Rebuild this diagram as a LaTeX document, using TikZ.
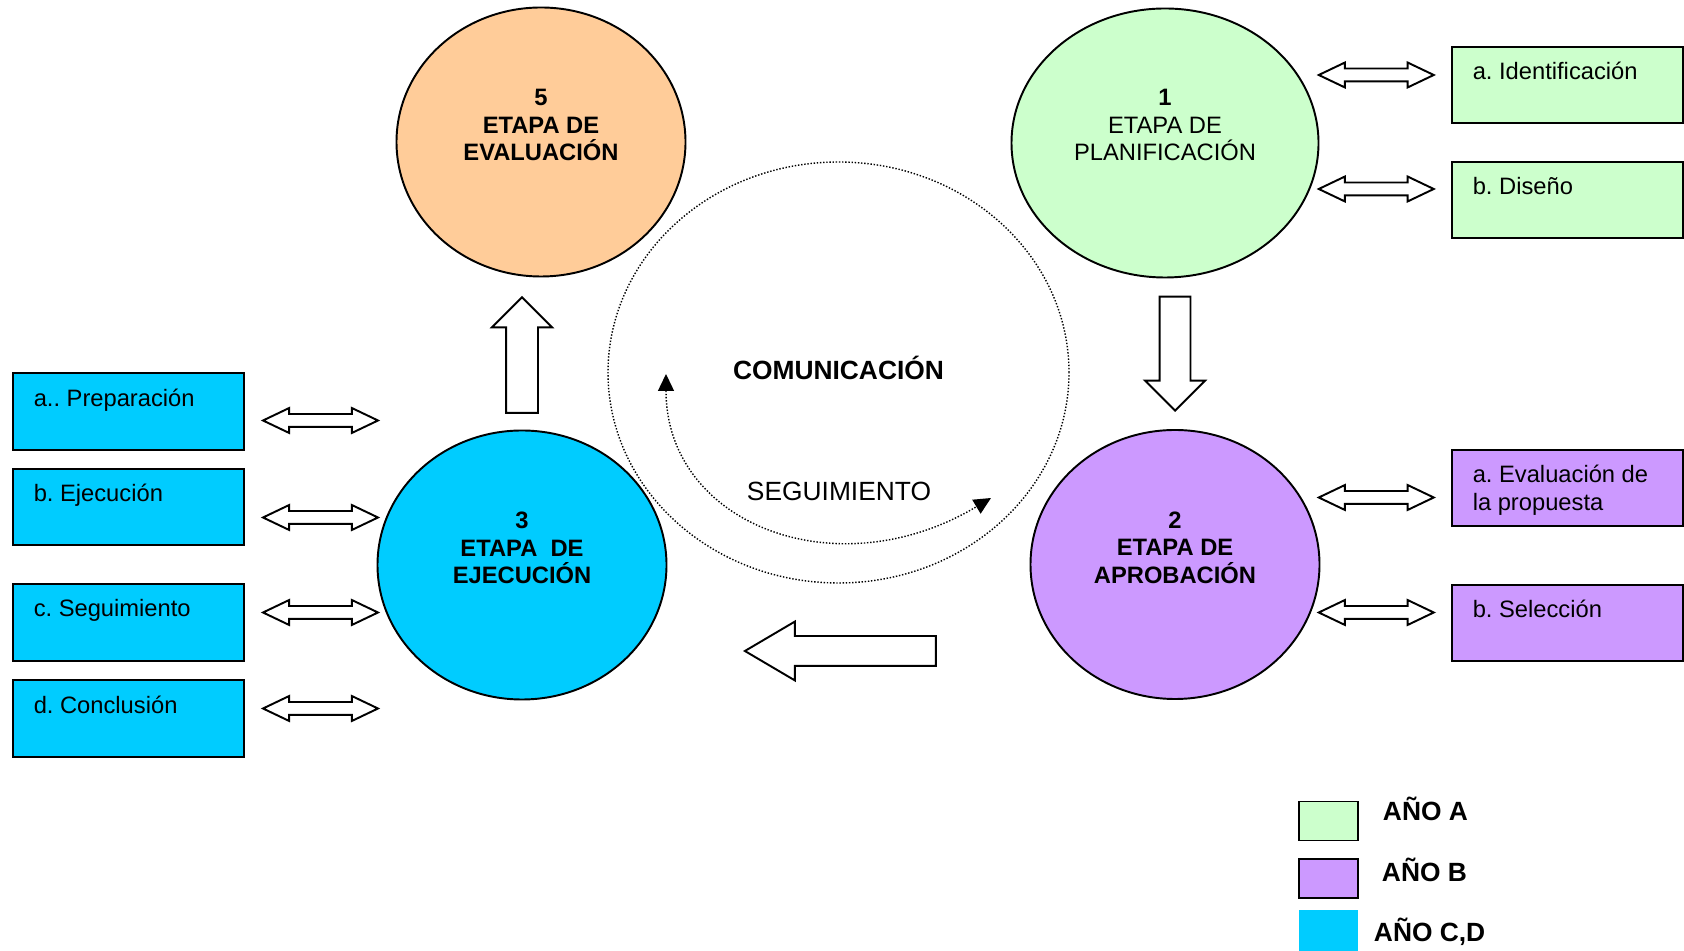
\documentclass[tikz,border=0pt]{standalone}
\usepackage{fontspec}
\setmainfont{Liberation Sans}
\usetikzlibrary{shapes.geometric,shapes.arrows,arrows.meta,positioning}
\frenchspacing

\definecolor{evalcol}{HTML}{FFCC99}
\definecolor{plancol}{HTML}{CCFFCC}
\definecolor{aprobcol}{HTML}{CC99FF}
\definecolor{ejeccol}{HTML}{00CCFF}

\begin{document}
\begin{tikzpicture}
        [line width=1.1pt,
         stage/.style={ellipse,draw,inner sep=0pt,minimum width=5.78cm,minimum height=5.38cm},
         stagetxt/.style={align=center,inner sep=0pt,font=\fontsize{13.5}{15.7}\selectfont\bfseries},
         taskbox/.style={rectangle,draw,minimum width=4.62cm,minimum height=1.53cm},
         tasktxt/.style={anchor=north west,align=left,inner sep=0pt,font=\fontsize{13.5}{16}\selectfont},
         link/.style={double arrow,draw,fill=white,inner sep=0.11cm,minimum height=2.3cm,
                      double arrow head extend=0.12cm,double arrow tip angle=51},
         flow/.style={single arrow,draw,fill=white,anchor=tip,single arrow head extend=0.29cm},
         legtxt/.style={anchor=base west,inner sep=0pt,font=\fontsize{15}{18}\selectfont\bfseries}]
        \useasboundingbox (0,0) rectangle (33.68,19.02);

        %Centre
        \node[ellipse,draw,densely dotted,line width=0.8pt,minimum width=9.22cm,minimum height=8.42cm] (COM) at (16.77,11.57) {};
        \node[font=\fontsize{15}{18}\selectfont\bfseries] (COMtxt) at ([yshift=1mm]COM.center) {COMUNICACIÓN};
        \node[font=\fontsize{15}{18}\selectfont] (SEG) at (16.78,9.20) {SEGUIMIENTO};
        \coordinate (segL) at (13.32,11.54);
        \coordinate (segR) at (19.82,9.06);
        \draw[densely dotted,line width=0.8pt,{Triangle[length=3.4mm,width=3.2mm]}-{Triangle[length=3.4mm,width=3.2mm]}]
          (segL) .. controls +(0,-3) and +(-3.09,-1.85) .. (segR);

        %Stages
        \node[stage,fill=evalcol] (C5) at (10.82,16.18) {};
        \node[stage,fill=plancol,minimum width=6.14cm] (C1) at (23.30,16.16) {};
        \node[stage,fill=ejeccol] (C3) at (10.44,7.72) {};
        \node[stage,fill=aprobcol] (C2) at (23.50,7.73) {};
        \node[stagetxt] (T5) at ([yshift=3.4mm]C5.center) {5\\ETAPA DE\\EVALUACIÓN};
        \node[stagetxt,font=\fontsize{13.5}{15.7}\selectfont] (T1) at ([yshift=3.6mm]C1.center)
          {{\bfseries 1}\\ETAPA DE\\PLANIFICACIÓN};
        \node[stagetxt] (T3) at ([yshift=3.4mm]C3.center) {3\\ETAPA\ \ DE\\EJECUCIÓN};
        \node[stagetxt] (T2) at ([yshift=3.4mm]C2.center) {2\\ETAPA DE\\APROBACIÓN};

        \node[flow,rotate=90,minimum height=2.31cm,inner sep=0.30cm,single arrow head extend=0.28cm] (up35) at (10.44,13.10) {};
        \node[flow,rotate=-90,minimum height=2.28cm,inner sep=0.29cm] (down12) at (23.50,10.78) {};
        \node[flow,rotate=180,minimum height=3.82cm,inner sep=0.28cm,single arrow tip angle=61] (left23) at (14.86,6.00) {};

        %Right side
        \node[taskbox,fill=plancol] (Ga) at (31.345,17.32) {};
        \node[taskbox,fill=plancol] (Gb) at (31.345,15.02) {};
        \node[taskbox,fill=aprobcol] (Pa) at (31.345,9.263) {};
        \node[taskbox,fill=aprobcol] (Pb) at (31.345,6.563) {};
        \node[tasktxt] at ([xshift=4.2mm,yshift=-3.1mm]Ga.north west) {a. Identificación};
        \node[tasktxt] at ([xshift=4.2mm,yshift=-3.1mm]Gb.north west) {b. Diseño};
        \node[tasktxt] at ([xshift=4.2mm,yshift=-3.1mm]Pa.north west) {a. Evaluación de\\la propuesta};
        \node[tasktxt] at ([xshift=4.2mm,yshift=-3.1mm]Pb.north west) {b. Selección};
        \foreach \y/\n in {17.52/ra,15.24/rb,9.07/rc,6.77/rd}
          \node[link] (\n) at (27.525,\y) {};

        %Left side
        \node[taskbox,fill=ejeccol] (Ea) at (2.565,10.793) {};
        \node[taskbox,fill=ejeccol] (Eb) at (2.565,8.883) {};
        \node[taskbox,fill=ejeccol] (Ec) at (2.565,6.57) {};
        \node[taskbox,fill=ejeccol] (Ed) at (2.565,4.653) {};
        \node[tasktxt] at ([xshift=4.2mm,yshift=-3.1mm]Ea.north west) {a.. Preparación};
        \node[tasktxt] at ([xshift=4.2mm,yshift=-3.1mm]Eb.north west) {b. Ejecución};
        \node[tasktxt] at ([xshift=4.2mm,yshift=-3.1mm]Ec.north west) {c. Seguimiento};
        \node[tasktxt] at ([xshift=4.2mm,yshift=-3.1mm]Ed.north west) {d. Conclusión};
        \foreach \y/\n in {10.61/la,8.67/lb,6.77/lc,4.85/ld}
          \node[link] (\n) at (6.41,\y) {};

        %Legend
        \node[draw,fill=plancol,minimum width=1.18cm,minimum height=0.78cm] (LA) at (26.57,2.60) {};
        \node[draw,fill=aprobcol,minimum width=1.18cm,minimum height=0.78cm] (LB) at (26.57,1.45) {};
        \node[fill=ejeccol,minimum width=1.19cm,minimum height=0.81cm] (LC) at (26.57,0.41) {};
        \node[legtxt] (TA) at (27.64,2.60) {AÑO A};
        \node[legtxt] (TB) at (27.62,1.39) {AÑO B};
        \node[legtxt] (TC) at (27.46,0.19) {AÑO C,D};
    \end{tikzpicture}
\end{document}
